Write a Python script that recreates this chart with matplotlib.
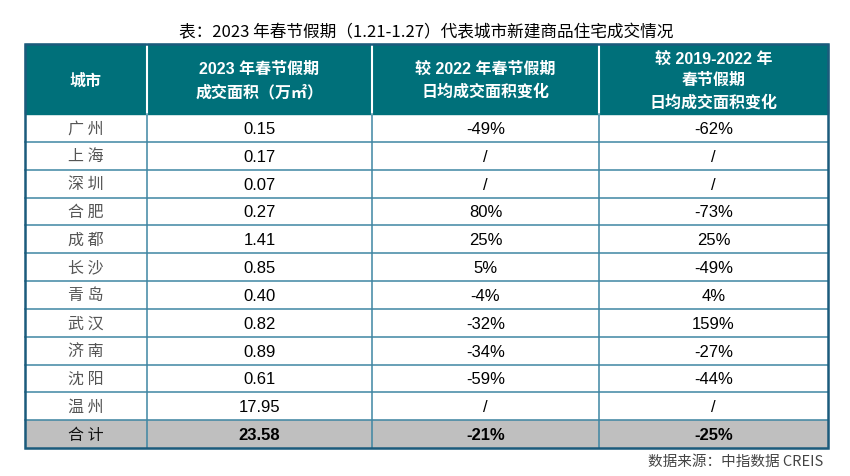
import matplotlib.pyplot as plt
from matplotlib.patches import Rectangle

plt.rcParams['font.family'] = ['Liberation Sans', 'Noto Sans CJK SC', 'DejaVu Sans']

title = "表：2023 年春节假期（1.21-1.27）代表城市新建商品住宅成交情况"
headers = ["城市",
           "2023 年春节假期\n成交面积（万㎡）",
           "较 2022 年春节假期\n日均成交面积变化",
           "较 2019-2022 年\n春节假期\n日均成交面积变化"]
cities = ["广 州", "上 海", "深 圳", "合 肥", "成 都", "长 沙", "青 岛", "武 汉", "济 南", "沈 阳", "温 州"]
area = ["0.15", "0.17", "0.07", "0.27", "1.41", "0.85", "0.40", "0.82", "0.89", "0.61", "17.95"]
vs2022 = ["-49%", "/", "/", "80%", "25%", "5%", "-4%", "-32%", "-34%", "-59%", "/"]
vs1922 = ["-62%", "/", "/", "-73%", "25%", "-49%", "4%", "159%", "-27%", "-44%", "/"]
total = ["合 计", "23.58", "-21%", "-25%"]
source = "数据来源：中指数据 CREIS"

# layout (pixels)
col_edges = [25, 147, 372, 599, 828]
top, head_h = 45, 70
row_h = (449 - 115) / 12

teal = '#00707a'
grid = '#3f86a3'
border = '#1b5b7c'

fig = plt.figure(figsize=(8.5, 4.77), dpi=100)
ax = fig.add_axes([0, 0, 1, 1])
ax.set_xlim(0, 850)
ax.set_ylim(477, 0)
ax.axis('off')

left, right = col_edges[0], col_edges[-1]
nrows = len(cities) + 1
bottom = top + head_h + nrows * row_h

# header
ax.add_patch(Rectangle((left, top), right - left, head_h, color=teal, zorder=1))
for i, h in enumerate(headers):
    cx = (col_edges[i] + col_edges[i + 1]) / 2
    ax.text(cx, top + head_h / 2 + 1, h, ha='center', va='center', color='white',
            fontsize=11.5, fontweight='bold', linespacing=1.55, zorder=3)
for x in col_edges[1:-1]:
    ax.plot([x, x], [top, top + head_h], color='white', lw=1.5, zorder=2)

# body rows
rows = list(zip(cities, area, vs2022, vs1922)) + [tuple(total)]
for r, row in enumerate(rows):
    y0 = top + head_h + r * row_h
    is_total = r == len(rows) - 1
    if is_total:
        ax.add_patch(Rectangle((left, y0), right - left, row_h, color='#bfbfbf', zorder=1))
    for c, val in enumerate(row):
        cx = (col_edges[c] + col_edges[c + 1]) / 2
        if c == 0:
            ax.text(cx, y0 + row_h / 2, val, ha='center', va='center', fontsize=11.5,
                    color='#111111' if is_total else '#555555', zorder=3,
                    family=['Noto Sans CJK SC', 'DejaVu Sans'])
        else:
            ax.text(cx, y0 + row_h / 2 + 0.5, val, ha='center', va='center', fontsize=12,
                    color='black', fontweight='bold' if is_total else 'normal', zorder=3)
    if r > 0:
        ax.plot([left, right], [y0, y0], color=grid, lw=1.1, zorder=2)

for x in col_edges[1:-1]:
    ax.plot([x, x], [top + head_h, bottom], color=grid, lw=1.1, zorder=2)

ax.add_patch(Rectangle((left, top), right - left, bottom - top, fill=False,
                       edgecolor=border, lw=1.8, zorder=4))

ax.text((left + right) / 2, top - 12, title, ha='center', va='center', fontsize=12,
        color='black', family=['Noto Sans CJK SC', 'DejaVu Sans'])
ax.text(823, bottom + 13, source, ha='right', va='center', fontsize=10.5,
        color='#444444', family=['Noto Sans CJK SC', 'DejaVu Sans'])

fig.savefig('out.png', dpi=100)
